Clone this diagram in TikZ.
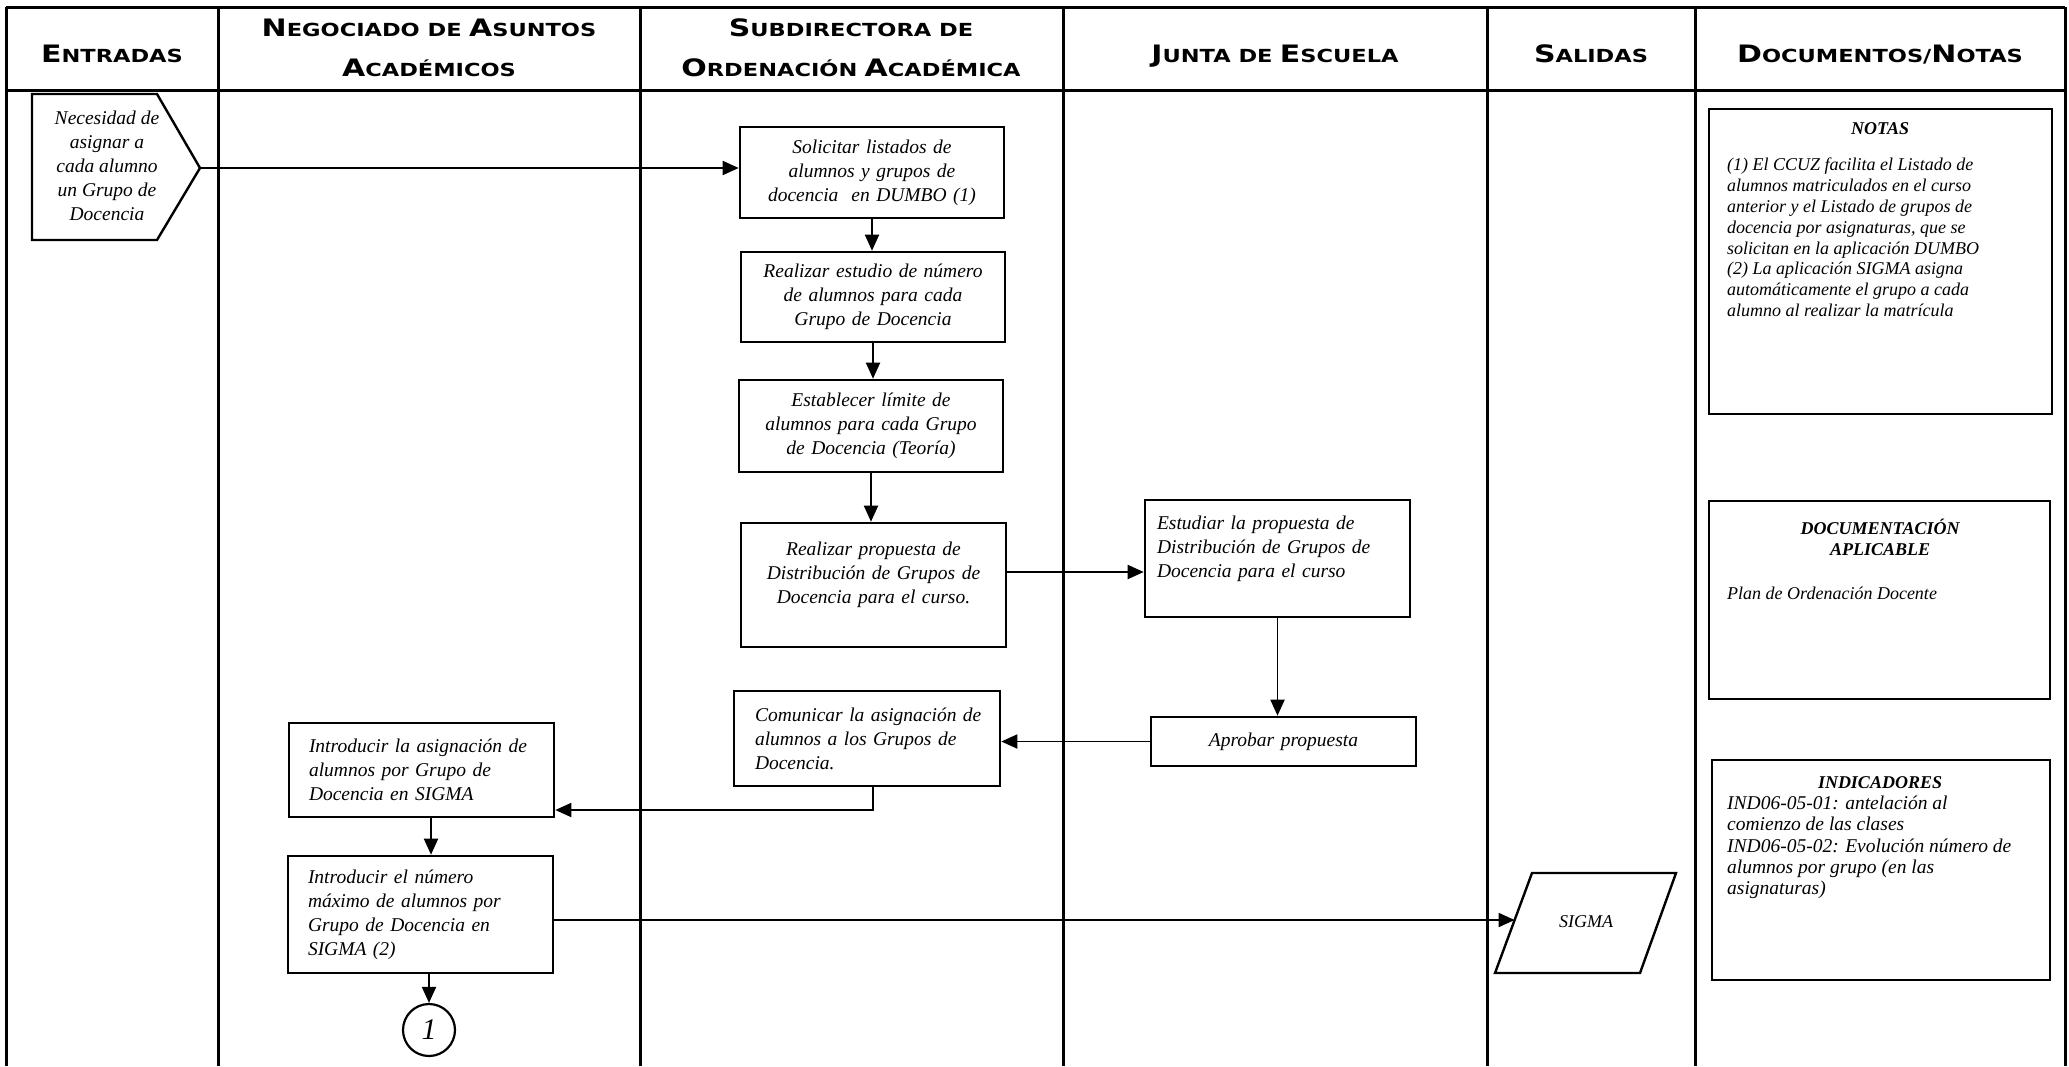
\documentclass[tikz,border=0pt]{standalone}
\usepackage{fontspec}
\setmainfont{Liberation Serif}
\newfontfamily\hdrfont[FakeStretch=1.25]{DejaVu Sans}
\usetikzlibrary{arrows.meta}
\newcommand\hbig[1]{{\fontsize{24}{24}\selectfont #1}}
\newcommand\hsm[1]{{\fontsize{18}{18}\selectfont #1}}
\newcommand\bxfont{\fontsize{19.5}{24}\selectfont\itshape}
\newcommand\ntfont{\fontsize{18}{20.8}\selectfont\itshape}
\newcommand\indfont{\fontsize{19.5}{21.2}\selectfont\itshape}
\newcommand\nttitle{\fontsize{18}{21}\selectfont\bfseries\itshape}
\begin{document}
\begin{tikzpicture}[x=1pt,y=-1pt,
  frame/.style={line width=3pt},
  box/.style={draw, line width=2.6pt, inner sep=0pt, font=\bxfont},
  notebox/.style={draw, line width=2.6pt, inner sep=0pt},
  hdr/.style={font=\hdrfont\bfseries, anchor=base, inner sep=0pt},
  arr/.style={-{Triangle[length=16pt,width=14pt]}, line width=1.9pt},
  shapeline/.style={line width=2.4pt, line join=miter}]
\useasboundingbox (0,0) rectangle (2069,1066);
% table frame
\draw[frame] (6,7) -- (2065,7);
\draw[frame] (6,90) -- (2065,90);
\foreach \x in {6,218,640,1063,1487,1695,2065} \draw[frame] (\x,7) -- (\x,1066);
% headers
\node[hdr] (h1) at (112,62) {\hbig{E}\hsm{NTRADAS}};
\node[hdr] (h2a) at (429,36) {\hbig{N}\hsm{EGOCIADO DE}\hspace{3pt} \hbig{A}\hsm{SUNTOS}};
\node[hdr] (h2b) at (429,76) {\hbig{A}\hsm{CADÉMICOS}};
\node[hdr] (h3a) at (851,36) {\hbig{S}\hsm{UBDIRECTORA DE}};
\node[hdr] (h3b) at (851,76) {\hbig{O}\hsm{RDENACIÓN}\hspace{3pt} \hbig{A}\hsm{CADÉMICA}};
\node[hdr] (h4) at (1275,62) {\hbig{J}\hsm{UNTA DE}\hspace{3pt} \hbig{E}\hsm{SCUELA}};
\node[hdr] (h5) at (1591,62) {\hbig{S}\hsm{ALIDAS}};
\node[hdr] (h6) at (1880,62) {\hbig{D}\hsm{OCUMENTOS/}\hbig{N}\hsm{OTAS}};
% input
\draw[shapeline] (32,94) -- (157,94) -- (200,168) -- (157,240) -- (32,240) -- cycle;
\coordinate (hextip) at (200,168);
\node[font=\bxfont, align=center, inner sep=0pt] (hex) at (107,166) {Necesidad de\\asignar a\\cada alumno\\un Grupo de\\Docencia};
% process boxes
\node[box, minimum width=264pt, minimum height=91pt, text width=250pt, align=center] (sol) at (872,172.5) {Solicitar listados de\\alumnos y grupos de\\docencia\ \ en DUMBO (1)};
\node[box, minimum width=264pt, minimum height=90pt, text width=250pt, align=center] (est) at (873,297) {Realizar estudio de número\\de alumnos para cada\\Grupo de Docencia};
\node[box, minimum width=264pt, minimum height=92pt, text width=250pt, align=center] (lim) at (871,426) {Establecer límite de\\alumnos para cada Grupo\\de Docencia (Teoría)};
\node[box, minimum width=265pt, minimum height=124pt, text width=250pt, align=center] (prop) at (873.5,585) {Realizar propuesta de\\Distribución de Grupos de\\Docencia para el curso.\\ \mbox{}};
\node[box, minimum width=265pt, minimum height=117pt, text width=241pt, align=left] (estud) at (1277.5,558.5) {Estudiar la propuesta de\\Distribución de Grupos de\\Docencia para el curso\\ \mbox{}};
\node[box, minimum width=265pt, minimum height=49pt, text width=250pt, align=center] (apr) at (1283.5,741.5) {Aprobar propuesta};
\node[box, minimum width=266pt, minimum height=95pt, text width=224pt, align=left] (com) at (867,738.5) {\mbox{Comunicar la asignación de}\\\mbox{alumnos a los Grupos de}\\Docencia.};
\node[box, minimum width=265pt, minimum height=94pt, text width=225pt, align=left] (asig) at (421.5,770) {Introducir la asignación de\\alumnos por Grupo de\\Docencia en SIGMA};
\node[box, minimum width=265pt, minimum height=117pt, text width=225pt, align=left] (num) at (420.5,914.5) {Introducir el número\\máximo de alumnos por\\Grupo de Docencia en\\SIGMA (2)};
\node[draw, circle, line width=2.2pt, minimum size=52pt, inner sep=0pt, font=\fontsize{30}{30}\selectfont\itshape] (c1) at (429,1030) {1};
% output
\draw[shapeline] (1532,873) -- (1676,873) -- (1640,973) -- (1495,973) -- cycle;
\coordinate (sigmaL) at (1514.6,920);
\node[font=\fontsize{18}{20}\selectfont\itshape, inner sep=0pt] (sigma) at (1586,922) {SIGMA};
% notes column
\node[notebox, minimum width=343pt, minimum height=305pt] (notasbox) at (1880.5,261.5) {};
\node[font=\nttitle, inner sep=0pt] (notastit) at (1880,129) {NOTAS};
\node[font=\ntfont, align=left, anchor=north west, inner sep=0pt] (notastxt) at (1727,158) {(1) El CCUZ facilita el Listado de\\alumnos matriculados en el curso\\anterior y el Listado de grupos de\\docencia por asignaturas, que se\\solicitan en la aplicación DUMBO\\(2) La aplicación SIGMA asigna\\automáticamente el grupo a cada\\alumno al realizar la matrícula};
\node[notebox, minimum width=341pt, minimum height=198pt] (docbox) at (1879.5,600) {};
\node[font=\nttitle, align=center, inner sep=0pt] (doctit) at (1880,537) {DOCUMENTACIÓN\\APLICABLE};
\node[font=\ntfont, anchor=west, inner sep=0pt] (doctxt) at (1727,593) {Plan de Ordenación Docente};
\node[notebox, minimum width=338pt, minimum height=220pt] (indbox) at (1881,870) {};
\node[font=\nttitle, inner sep=0pt] (indtit) at (1880,783) {INDICADORES};
\node[font=\indfont, align=left, anchor=north west, inner sep=0pt] (indtxt) at (1727,796) {IND06-05-01: antelación al\\comienzo de las clases\\IND06-05-02: Evolución número de\\alumnos por grupo (en las\\asignaturas)};
% connectors
\draw[arr] (hextip) -- (hextip -| sol.west);
\draw[arr] (sol.south) -- (sol.south |- est.north);
\draw[arr] (est.south) -- (est.south |- lim.north);
\draw[arr] (lim.south) -- (lim.south |- prop.north);
\draw[arr] ([yshift=13pt]prop.east) -- ([yshift=13pt]prop.east -| estud.west);
\draw[arr] (estud.south) -- (estud.south |- apr.north);
\draw[arr] (apr.west) -- (apr.west -| com.east);
\draw[arr] ([xshift=6pt]com.south) |- ([yshift=-40pt]asig.east);
\draw[arr] ([xshift=9.5pt]asig.south) -- ([xshift=9.5pt]asig.south |- num.north);
\draw[arr] ([yshift=-5.5pt]num.east) -- (sigmaL);
\draw[arr] (c1.north |- num.south) -- (c1.north);
\end{tikzpicture}
\end{document}
